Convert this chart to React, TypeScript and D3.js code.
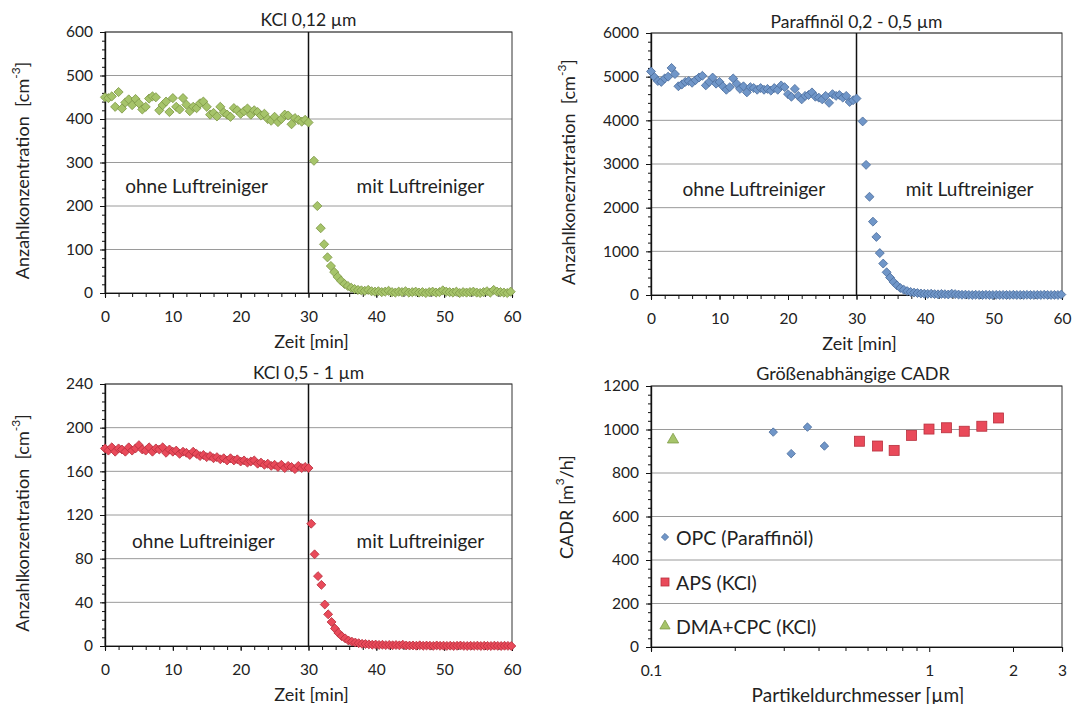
import React, { useCallback, useEffect, useRef } from 'react'
import * as d3 from 'd3'

const STEP = 0.5 // counter sampling interval [min]

// KCl 0,12 µm
const kclFineBefore = [450, 448, 452, 428, 462, 424, 438, 445, 432, 446, 436, 422, 428, 447, 452, 450, 420, 432, 440, 416, 448, 428, 422, 448, 433, 418, 428, 425, 436, 440, 428, 410, 414, 406, 428, 415, 410, 405, 425, 420, 412, 418, 424, 410, 420, 416, 408, 412, 400, 396, 405, 393, 400, 410, 408, 388, 402, 398, 394, 398, 392]
const kclFineAfterStart = 30.8
const kclFineAfter = [304, 200, 149, 112, 82, 62, 48, 37, 28, 21, 16, 12, 9, 7, 6, 5, 7, 4, 3, 4, 2, 3, 5, 2, 1, 3, 2, 4, 1, 2, 3, 1, 2, 0, 2, 3, 1, 2, 6, 3, 2, 1, 3, 0, 2, 1, 2, 3, 1, 0, 2, 4, 1, 7, 3, 2, 1, 0, 3]

// Paraffinöl 0,2 - 0,5 µm
const paraffinBefore = [5120, 4990, 4900, 4880, 4960, 5000, 5200, 5060, 4780, 4820, 4880, 4900, 4860, 4920, 4980, 5020, 4800, 4880, 4980, 4840, 4880, 4780, 4700, 4760, 4960, 4840, 4720, 4780, 4640, 4760, 4740, 4700, 4740, 4700, 4720, 4680, 4740, 4700, 4800, 4760, 4600, 4540, 4720, 4560, 4480, 4560, 4580, 4640, 4540, 4520, 4480, 4560, 4400, 4600, 4560, 4580, 4520, 4560, 4420, 4460, 4500]
const paraffinAfterStart = 30.9
const paraffinAfter = [3975, 2980, 2250, 1680, 1330, 960, 720, 520, 400, 300, 220, 160, 120, 90, 70, 55, 45, 35, 30, 25, 30, 20, 15, 25, 18, 12, 30, 20, 10, 5, 8, 3, 0, 5, 2, 0, 4, 1, 0, 3, 0, 2, 0, 1, 4, 0, 2, 0, 3, 1, 0, 2, 0, 5, 1, 0, 2, 0, 10]

// KCl 0,5 - 1 µm
const kclCoarseBefore = [181, 179, 182, 178, 181, 180, 178, 182, 179, 181, 184, 180, 179, 182, 178, 181, 180, 182, 177, 180, 178, 179, 176, 178, 177, 175, 178, 176, 174, 175, 173, 174, 172, 173, 171, 172, 170, 172, 170, 171, 169, 170, 168, 169, 170, 167, 168, 166, 167, 165, 166, 164, 166, 163, 165, 164, 162, 165, 163, 164, 163]
const kclCoarseAfterStart = 30.4
const kclCoarseAfter = [112, 84, 64, 56, 38, 29, 22, 16, 12, 9, 7, 5, 4, 3.2, 2.6, 2, 1.8, 1.5, 1.2, 1.3, 1, 1.1, 0.8, 1, 0.7, 0.9, 0.6, 1.2, 0.5, 0.4, 0.5, 0.3, 0.6, 0.2, 0.4, 0.3, 0.1, 0.5, 0.2, 0.3, 0.1, 0.3, 0, 0.2, 0.4, 0.1, 0, 0.2, 0.1, 0.3, 0, 0.2, 0.1, 0, 0.3, 0.1, 0, 0.2, 0.1, 0]

// Größenabhängige CADR
const opcDiameter = [0.275, 0.319, 0.365, 0.42]
const opcCadr = [988, 889, 1011, 924]
const apsDiameter = [0.561, 0.652, 0.748, 0.864, 0.998, 1.153, 1.336, 1.545, 1.774]
const apsCadr = [946, 924, 904, 973, 1002, 1008, 992, 1015, 1053]
const dmaDiameter = [0.12]
const dmaCadr = [953]

const timeTicks = [0, 10, 20, 30, 40, 50, 60]
const kclFineTicks = [0, 100, 200, 300, 400, 500, 600]
const paraffinTicks = [0, 1000, 2000, 3000, 4000, 5000, 6000]
const kclCoarseTicks = [0, 40, 80, 120, 160, 200, 240]
const cadrTicks = [0, 200, 400, 600, 800, 1000, 1200]
const diameterTicks = [0.1, 1, 2, 3]
const diameterMinor = [0.2, 0.3, 0.4, 0.5, 0.6, 0.7, 0.8, 0.9, 2, 3]

const FONT = 'Lato, "Open Sans", sans-serif'
const GREEN = '#a6c46a', GREEN_EDGE = '#7f9a48'
const BLUE = '#7096c8', BLUE_EDGE = '#4d6f9e'
const RED = '#e94a5a', RED_EDGE = '#b8303e'

function styleAxis(g: any) {
  g.selectAll('path').attr('stroke', '#111').attr('stroke-width', 1.2)
  g.selectAll('line').attr('stroke', '#111')
  g.selectAll('text').attr('font-family', FONT).attr('font-size', 15.5).attr('fill', '#222')
}

function frame(svg: any, box: any, x: any, y: any, yTicks: number[], xTicks: number[], xMinor: number[], xFmt: any) {
  const yMinor = d3.range(yTicks[0], yTicks[yTicks.length - 1] + 1e-9, (yTicks[1] - yTicks[0]) / 5)
  // horizontal gridlines
  svg.append('g').selectAll('line').data(yTicks.slice(1)).join('line')
    .attr('x1', box.left).attr('x2', box.right)
    .attr('y1', (d: number) => y(d)).attr('y2', (d: number) => y(d))
    .attr('stroke', '#9a9a9a').attr('stroke-width', 1)
  svg.append('rect')
    .attr('x', box.left).attr('y', box.top)
    .attr('width', box.right - box.left).attr('height', box.bottom - box.top)
    .attr('fill', 'none').attr('stroke', '#333').attr('stroke-width', 1)

  const ly = svg.append('g').attr('transform', `translate(${box.left},0)`)
    .call(d3.axisLeft(y).tickValues(yMinor).tickSize(3).tickFormat(() => ''))
  styleAxis(ly)
  const ly2 = svg.append('g').attr('transform', `translate(${box.left},0)`)
    .call(d3.axisLeft(y).tickValues(yTicks).tickSize(5).tickPadding(7).tickSizeOuter(0).tickFormat(d3.format('d')))
  styleAxis(ly2)

  const lx = svg.append('g').attr('transform', `translate(0,${box.bottom})`)
    .call(d3.axisBottom(x).tickValues(xMinor).tickSize(4).tickFormat(() => ''))
  styleAxis(lx)
  const lx2 = svg.append('g').attr('transform', `translate(0,${box.bottom})`)
    .call(d3.axisBottom(x).tickValues(xTicks).tickSize(5).tickPadding(13).tickSizeOuter(0).tickFormat(xFmt))
  styleAxis(lx2)
}

function label(svg: any, text: string, px: number, py: number, size: number, rotate = false) {
  return svg.append('text')
    .attr('transform', rotate ? `translate(${px},${py}) rotate(-90)` : `translate(${px},${py})`)
    .attr('text-anchor', 'middle').attr('dominant-baseline', 'central')
    .attr('font-family', FONT).attr('font-size', size).attr('fill', '#222')
    .text(text)
}

function yLabelSup(svg: any, main: string, sup: string, tail: string, px: number, py: number) {
  const t = svg.append('text')
    .attr('transform', `translate(${px},${py}) rotate(-90)`)
    .attr('text-anchor', 'middle').attr('dominant-baseline', 'central')
    .attr('font-family', FONT).attr('font-size', 18).attr('fill', '#222')
    .attr('xml:space', 'preserve').style('white-space', 'pre')
  t.append('tspan').text(main)
  t.append('tspan').attr('font-size', 12).attr('dy', -7).text(sup)
  t.append('tspan').attr('dy', 7).text(tail)
}

function diamond(svg: any, pts: [number, number][], x: any, y: any, fill: string, edge: string, size: number) {
  const sym = d3.symbol(d3.symbolSquare, size)
  svg.append('g').selectAll('path').data(pts).join('path')
    .attr('d', sym)
    .attr('transform', (d: [number, number]) => `translate(${x(d[0])},${y(d[1])}) rotate(45)`)
    .attr('fill', fill).attr('stroke', edge).attr('stroke-width', 0.8)
}

function timePanel(svg: any, o: any) {
  const box = o.box
  const x = d3.scaleLinear().domain([0, 60]).range([box.left, box.right])
  const y = d3.scaleLinear().domain([0, o.yTicks[o.yTicks.length - 1]]).range([box.bottom, box.top])
  frame(svg, box, x, y, o.yTicks, timeTicks, d3.range(0, 61, 2), d3.format('d'))
  svg.append('line')
    .attr('x1', x(30)).attr('x2', x(30)).attr('y1', box.top).attr('y2', box.bottom)
    .attr('stroke', '#111').attr('stroke-width', 1.5)
  const pts: [number, number][] = [
    ...o.before.map((v: number, i: number) => [i * STEP, v]),
    ...o.after.map((v: number, i: number) => [o.afterStart + i * STEP, v]),
  ]
  diamond(svg, pts, x, y, o.fill, o.edge, o.size)
  label(svg, o.title, (box.left + box.right) / 2, o.titleY, 17.5)
  label(svg, 'Zeit [min]', (box.left + box.right) / 2 + 3, box.bottom + 48, 18)
  yLabelSup(svg, o.yLabel + '  [cm', '-3', ']', o.yLabelX, (box.top + box.bottom) / 2 + 8)
  label(svg, 'ohne Luftreiniger', x(o.ohneAt), o.textY, 19)
  label(svg, 'mit Luftreiniger', x(o.mitAt), o.textY, 19)
}

function App() {
  const chartRef = useRef<SVGSVGElement>(null)
  const drawChart = useCallback(() => {
    const svg = d3.select(chartRef.current)
    svg.selectAll('*').remove()

    timePanel(svg, {
      box: { left: 105, right: 512, top: 32, bottom: 293 },
      yTicks: kclFineTicks, before: kclFineBefore, after: kclFineAfter, afterStart: kclFineAfterStart,
      fill: GREEN, edge: GREEN_EDGE, size: 42,
      title: 'KCl 0,12 µm', titleY: 19, yLabel: 'Anzahlkonzentration', yLabelX: 22,
      ohneAt: 13.5, mitAt: 46.5, textY: 185,
    })
    timePanel(svg, {
      box: { left: 651, right: 1062, top: 33, bottom: 295 },
      yTicks: paraffinTicks, before: paraffinBefore, after: paraffinAfter, afterStart: paraffinAfterStart,
      fill: BLUE, edge: BLUE_EDGE, size: 40,
      title: 'Paraffinöl 0,2 - 0,5 µm', titleY: 21, yLabel: 'Anzahlkoneznztration', yLabelX: 568,
      ohneAt: 15, mitAt: 46.5, textY: 188,
    })
    timePanel(svg, {
      box: { left: 105, right: 512, top: 384, bottom: 646 },
      yTicks: kclCoarseTicks, before: kclCoarseBefore, after: kclCoarseAfter, afterStart: kclCoarseAfterStart,
      fill: RED, edge: RED_EDGE, size: 40,
      title: 'KCl 0,5 - 1 µm', titleY: 372, yLabel: 'Anzahlkonzentration', yLabelX: 22,
      ohneAt: 14.5, mitAt: 46.5, textY: 540,
    })

    // Größenabhängige CADR
    const box = { left: 651, right: 1062, top: 386, bottom: 647 }
    const x = d3.scaleLog().domain([0.1, 3]).range([box.left, box.right])
    const y = d3.scaleLinear().domain([0, 1200]).range([box.bottom, box.top])
    frame(svg, box, x, y, cadrTicks, diameterTicks, diameterMinor, (d: number) => String(d))
    const opcPts = opcDiameter.map((d, i) => [d, opcCadr[i]] as [number, number])
    diamond(svg, opcPts, x, y, BLUE, BLUE_EDGE, 36)
    svg.append('g').selectAll('rect').data(apsDiameter.map((d, i) => [d, apsCadr[i]])).join('rect')
      .attr('x', (d: number[]) => x(d[0]) - 5).attr('y', (d: number[]) => y(d[1]) - 5)
      .attr('width', 10).attr('height', 10)
      .attr('fill', RED).attr('stroke', RED_EDGE).attr('stroke-width', 0.8)
    const tri = d3.symbol(d3.symbolTriangle, 55)
    svg.append('g').selectAll('path').data(dmaDiameter.map((d, i) => [d, dmaCadr[i]])).join('path')
      .attr('d', tri)
      .attr('transform', (d: number[]) => `translate(${x(d[0])},${y(d[1])})`)
      .attr('fill', GREEN).attr('stroke', GREEN_EDGE).attr('stroke-width', 0.8)

    label(svg, 'Größenabhängige CADR', 853, 373, 18)
    label(svg, 'Partikeldurchmesser [µm]', 858, 694, 19)
    const yl = svg.append('text')
      .attr('transform', `translate(566,507) rotate(-90)`)
      .attr('text-anchor', 'middle').attr('dominant-baseline', 'central')
      .attr('font-family', FONT).attr('font-size', 18).attr('fill', '#222')
    yl.append('tspan').text('CADR [m')
    yl.append('tspan').attr('font-size', 12).attr('dy', -7).text('3')
    yl.append('tspan').attr('dy', 7).text('/h]')

    // legend
    const legend = svg.append('g').attr('transform', 'translate(665,0)')
    const rows = [
      { name: 'OPC (Paraffinöl)', y: 537 },
      { name: 'APS (KCl)', y: 582 },
      { name: 'DMA+CPC (KCl)', y: 626 },
    ]
    legend.append('path').attr('d', d3.symbol(d3.symbolSquare, 26)())
      .attr('transform', `translate(0,${rows[0].y}) rotate(45)`).attr('fill', BLUE).attr('stroke', BLUE_EDGE).attr('stroke-width', 0.8)
    legend.append('rect').attr('x', -4).attr('y', rows[1].y - 4).attr('width', 8).attr('height', 8)
      .attr('fill', RED).attr('stroke', RED_EDGE).attr('stroke-width', 0.8)
    legend.append('path').attr('d', d3.symbol(d3.symbolTriangle, 45)())
      .attr('transform', `translate(0,${rows[2].y})`).attr('fill', GREEN).attr('stroke', GREEN_EDGE).attr('stroke-width', 0.8)
    legend.selectAll('text').data(rows).join('text')
      .attr('x', 11).attr('y', (d: any) => d.y)
      .attr('dominant-baseline', 'central')
      .attr('font-family', FONT).attr('font-size', 19.5).attr('fill', '#222')
      .text((d: any) => d.name)
  }, [])

  useEffect(() => {
    drawChart()
  }, [drawChart])

  return (
    <div style={{ position: 'absolute', left: 0, top: 0 }}>
      <svg ref={chartRef} width={1078} height={704} style={{ display: 'block', background: '#fff' }}></svg>
    </div>
  )
}

export default App
